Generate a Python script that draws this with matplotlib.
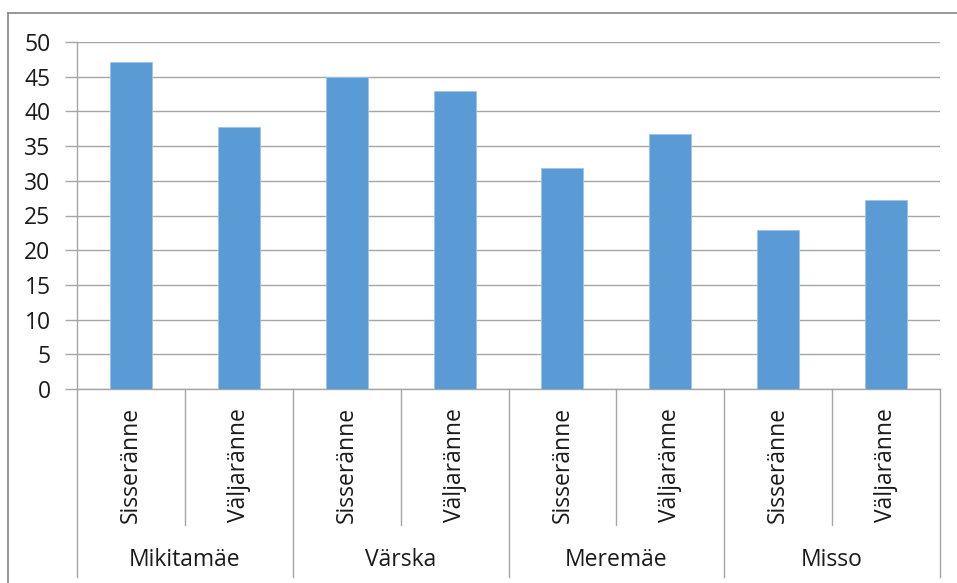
import matplotlib.pyplot as plt
from matplotlib.lines import Line2D

groups = ['Mikitamäe', 'Värska', 'Meremäe', 'Misso']
subcats = ['Sisseränne', 'Väljaränne']
values = [47.1, 37.7, 45.0, 42.9, 31.9, 36.7, 22.9, 27.3]

plt.rcParams['font.family'] = ['Open Sans', 'DejaVu Sans']

W, H = 957, 583
fig = plt.figure(figsize=(W / 100, H / 100), dpi=100)
ax = fig.add_axes([77 / W, (H - 389) / H, (940 - 77) / W, 347 / H])

fs = 16.5
grid_c = '#a6a6a6'

x = list(range(len(values)))
ax.bar(x, values, width=0.39, color='#5b9bd5', edgecolor='#9dc3e6', linewidth=0.6, zorder=3)

ax.set_xlim(-0.5, len(values) - 0.5)
ax.set_ylim(0, 50)
ax.set_yticks(range(0, 51, 5))
ax.tick_params(axis='y', length=9, width=1, color=grid_c, labelsize=fs, pad=10, labelcolor='#1a1a1a')
ax.yaxis.grid(True, color=grid_c, linewidth=1, zorder=0)
ax.set_xticks([])

for s in ['top', 'right']:
    ax.spines[s].set_visible(False)
for s in ['left', 'bottom']:
    ax.spines[s].set_color(grid_c)
    ax.spines[s].set_linewidth(1)

tr = ax.get_xaxis_transform()
# dividers under the axis
n_sub = len(subcats)
for g in range(len(groups) + 1):
    xp = g * n_sub - 0.5
    ax.add_line(Line2D([xp, xp], [0, -0.542], transform=tr, color=grid_c, lw=1, clip_on=False))
for g in range(len(groups)):
    for k in range(1, n_sub):
        xp = g * n_sub + k - 0.5
        ax.add_line(Line2D([xp, xp], [0, -0.392], transform=tr, color=grid_c, lw=1, clip_on=False))

# labels
for i in x:
    ax.text(i, -0.218, subcats[i % n_sub], transform=tr, rotation=90,
            ha='center', va='center', fontsize=fs, color='#1a1a1a')
for g, name in enumerate(groups):
    ax.text(g * n_sub + (n_sub - 1) / 2, -0.493, name, transform=tr,
            ha='center', va='center', fontsize=fs, color='#1a1a1a')

# outer chart border (only top and left visible)
fig.add_artist(Line2D([8 / W, 8 / W], [0, (H - 12.5) / H], transform=fig.transFigure, color='#868686', lw=1.2))
fig.add_artist(Line2D([8 / W, 1], [(H - 12.5) / H, (H - 12.5) / H], transform=fig.transFigure, color='#868686', lw=1.2))

fig.savefig('out.png', dpi=100)
